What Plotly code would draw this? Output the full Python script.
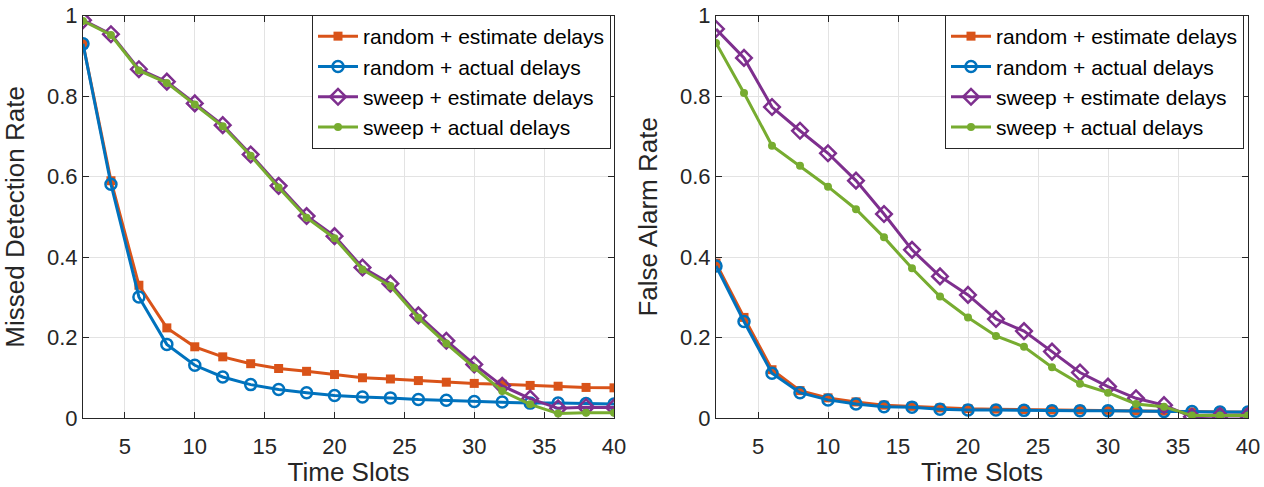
import plotly.graph_objects as go

time_slots = [2, 4, 6, 8, 10, 12, 14, 16, 18, 20, 22, 24, 26, 28, 30, 32, 34, 36, 38, 40]
series_names = ["random + estimate delays", "random + actual delays",
                "sweep + estimate delays", "sweep + actual delays"]

# Missed detection rate (left panel)
md_random_est = [0.93, 0.59, 0.33, 0.224, 0.177, 0.152, 0.135, 0.123, 0.116, 0.108, 0.100, 0.097,
                 0.093, 0.089, 0.086, 0.084, 0.081, 0.079, 0.076, 0.075]
md_random_act = [0.93, 0.581, 0.301, 0.183, 0.131, 0.102, 0.083, 0.071, 0.063, 0.056, 0.052, 0.050,
                 0.046, 0.044, 0.041, 0.040, 0.037, 0.037, 0.036, 0.035]
md_sweep_est = [0.989, 0.954, 0.867, 0.836, 0.782, 0.728, 0.655, 0.577, 0.502, 0.452, 0.374, 0.334,
                0.255, 0.192, 0.133, 0.080, 0.048, 0.024, 0.027, 0.026]
md_sweep_act = [0.987, 0.952, 0.864, 0.833, 0.779, 0.725, 0.652, 0.573, 0.498, 0.447, 0.369, 0.328,
                0.249, 0.185, 0.125, 0.067, 0.034, 0.011, 0.013, 0.013]

# False alarm rate (right panel)
fa_random_est = [0.385, 0.250, 0.120, 0.068, 0.050, 0.040, 0.032, 0.029, 0.025, 0.023, 0.022, 0.021,
                 0.020, 0.020, 0.019, 0.018, 0.017, 0.015, 0.014, 0.014]
fa_random_act = [0.378, 0.240, 0.111, 0.063, 0.045, 0.035, 0.028, 0.027, 0.022, 0.020, 0.020, 0.019,
                 0.018, 0.018, 0.018, 0.017, 0.016, 0.016, 0.015, 0.015]
fa_sweep_est = [0.967, 0.895, 0.773, 0.714, 0.658, 0.590, 0.507, 0.418, 0.352, 0.306, 0.246, 0.216,
                0.165, 0.113, 0.078, 0.049, 0.032, 0.003, 0.005, 0.005]
fa_sweep_act = [0.932, 0.808, 0.677, 0.627, 0.575, 0.519, 0.449, 0.372, 0.302, 0.250, 0.204, 0.177,
                0.126, 0.085, 0.063, 0.035, 0.028, 0.006, 0.006, 0.006]

x_ticks = [5, 10, 15, 20, 25, 30, 35, 40]
y_ticks = [0, 0.2, 0.4, 0.6, 0.8, 1]
y_tick_text = ["0", "0.2", "0.4", "0.6", "0.8", "1"]

colors = ["#D95319", "#0072BD", "#7E2F8E", "#77AC30"]
styles = [
    dict(symbol="square", size=9, lw=0),
    dict(symbol="circle-open", size=11, lw=2.5),
    dict(symbol="diamond-open", size=12, lw=2.5),
    dict(symbol="circle", size=8, lw=0),
]

FONT = "Liberation Sans, Arial, sans-serif"
TXT = "#262626"

fig = go.Figure()

panels = [
    (["x", "y", "legend"], [md_random_est, md_random_act, md_sweep_est, md_sweep_act]),
    (["x2", "y2", "legend2"], [fa_random_est, fa_random_act, fa_sweep_est, fa_sweep_act]),
]
for (xa, ya, lg), data in panels:
    for name, vals, col, st in zip(series_names, data, colors, styles):
        fig.add_trace(go.Scatter(
            x=time_slots, y=vals, name=name, mode="lines+markers",
            line=dict(color=col, width=3),
            marker=dict(color=col, symbol=st["symbol"], size=st["size"],
                        line=dict(color=col, width=st["lw"])),
            xaxis=xa, yaxis=ya, legend=lg,
        ))

axis_common = dict(
    showline=True, linecolor=TXT, linewidth=1, mirror="ticks",
    ticks="inside", ticklen=6, tickcolor=TXT, automargin=False,
    showgrid=True, gridcolor="#e3e3e3", gridwidth=1, zeroline=False,
    tickfont=dict(family=FONT, size=22, color=TXT),
)

title_font = dict(family=FONT, size=26, color=TXT)

xaxis_common = dict(axis_common, range=[2, 40], tickvals=x_ticks, ticklabelstandoff=9,
                    title=dict(text="Time Slots", font=title_font, standoff=4))
yaxis_common = dict(axis_common, range=[0, 1], tickvals=y_ticks, ticktext=y_tick_text, ticklabelstandoff=0)

legend_common = dict(
    bgcolor="white", bordercolor=TXT, borderwidth=1,
    font=dict(family=FONT, size=21, color="black"),
    xanchor="right", yanchor="top", tracegroupgap=0, itemwidth=40,
)

fig.update_layout(
    width=1264, height=487,
    margin=dict(l=0, r=0, t=0, b=0, autoexpand=False),
    paper_bgcolor="white", plot_bgcolor="white",
    font=dict(family=FONT, color=TXT),
    xaxis=dict(xaxis_common, domain=[83 / 1264, 614 / 1264], anchor="y"),
    yaxis=dict(yaxis_common, domain=[69 / 487, 471.3 / 487], anchor="x",
               title=dict(text="Missed Detection Rate", font=title_font, standoff=14)),
    xaxis2=dict(xaxis_common, domain=[716 / 1264, 1248 / 1264], anchor="y2"),
    yaxis2=dict(yaxis_common, domain=[69 / 487, 471.3 / 487], anchor="x2",
                title=dict(text="False Alarm Rate", font=title_font, standoff=14)),
    legend=dict(legend_common, x=611 / 1264, y=(487 - 15) / 487),
    legend2=dict(legend_common, x=1244 / 1264, y=(487 - 15) / 487),
)

fig.write_html("out.html", config={"displayModeBar": False},
               post_script="document.body.style.margin='0px';")
